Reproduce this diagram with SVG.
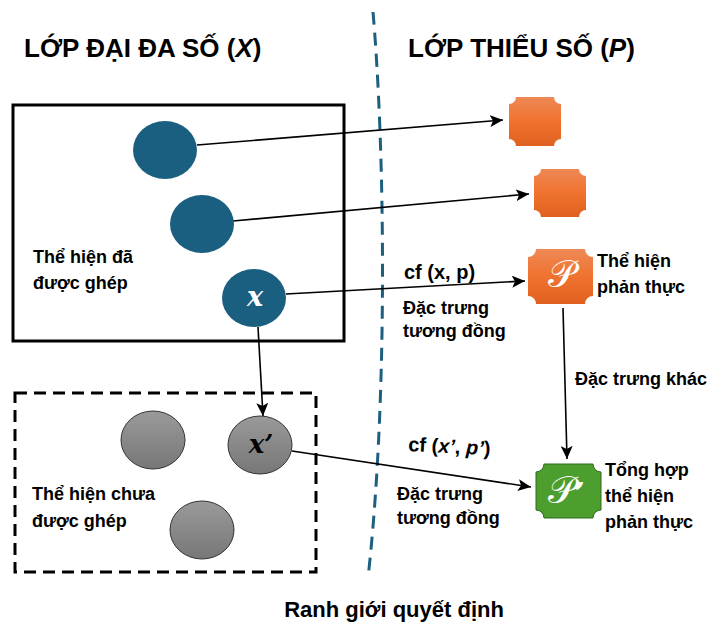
<svg xmlns="http://www.w3.org/2000/svg" width="726" height="637" viewBox="0 0 726 637">
<style>
.t{font-family:"Liberation Sans",Arial,sans-serif;font-weight:bold;fill:#000}
.lbl{font-size:18px}
.ttl{font-size:26px}
.math{font-family:"DejaVu Serif","Liberation Serif",serif;font-style:italic;font-weight:bold}
.conn{stroke:#000;stroke-width:1.6;fill:none;marker-end:url(#ah)}
.blue{fill:#1A5F80}
.gray{fill:url(#gg);stroke:#333;stroke-width:1}
.orange{fill:url(#og)}
</style>
<defs>
<marker id="ah" markerUnits="userSpaceOnUse" markerWidth="14" markerHeight="12" refX="13" refY="6" orient="auto">
<path d="M0,0 L13,6 L0,12 L3,6 z" fill="#000"/>
</marker>
<linearGradient id="og" x1="0" y1="0" x2="0" y2="1">
<stop offset="0" stop-color="#EE8956"/>
<stop offset="0.5" stop-color="#F0722F"/>
<stop offset="1" stop-color="#E0611F"/>
</linearGradient>
<linearGradient id="gg" x1="0" y1="0" x2="0" y2="1">
<stop offset="0" stop-color="#9A9A9A"/>
<stop offset="1" stop-color="#777777"/>
</linearGradient>
</defs>
<rect width="726" height="637" fill="#fff"/>

<g id="boundary">
<path d="M373,12 C385,150 388,400 368,578" fill="none" stroke="#1C5F7F" stroke-width="3" stroke-dasharray="13,8"/>
</g>

<g id="titles">
<text class="t ttl" x="24" y="57">LỚP ĐẠI ĐA SỐ (<tspan font-style="italic">X</tspan>)</text>
<text class="t ttl" x="408" y="57">LỚP THIỂU SỐ (<tspan font-style="italic">P</tspan>)</text>
<text class="t" x="394" y="617" font-size="22" text-anchor="middle">Ranh giới quyết định</text>
</g>

<g id="matched-box">
<rect x="13" y="105" width="331" height="236" fill="none" stroke="#000" stroke-width="3"/>
<text class="t lbl" x="33" y="263">Thể hiện đã</text>
<text class="t lbl" x="33" y="289">được ghép</text>
</g>

<g id="unmatched-box">
<rect x="15" y="393" width="301" height="179" fill="none" stroke="#000" stroke-width="3" stroke-dasharray="12,7"/>
<text class="t lbl" x="32" y="500">Thể hiện chưa</text>
<text class="t lbl" x="32" y="527">được ghép</text>
</g>

<g id="connectors">
<line class="conn" x1="197" y1="145" x2="503" y2="120"/>
<line class="conn" x1="233" y1="221" x2="529" y2="194"/>
<line class="conn" x1="286" y1="294" x2="525" y2="281"/>
<line class="conn" x1="258" y1="327" x2="263" y2="416"/>
<line class="conn" x1="292" y1="451" x2="531" y2="487"/>
<line class="conn" x1="563" y1="308" x2="567" y2="459"/>
</g>

<g id="edge-labels">
<text class="t" x="404" y="279" font-size="20">cf (x, p)</text>
<text class="t lbl" x="403" y="314">Đặc trưng</text>
<text class="t lbl" x="403" y="337">tương đồng</text>
<text class="t" x="408" y="451" font-size="20" transform="rotate(3 408 451)">cf (<tspan font-style="italic">x’</tspan>, <tspan font-style="italic">p’</tspan>)</text>
<text class="t lbl" x="397" y="500">Đặc trưng</text>
<text class="t lbl" x="397" y="524">tương đồng</text>
<text class="t lbl" x="575" y="385">Đặc trưng khác</text>
</g>

<g id="x1"><ellipse class="blue" cx="165" cy="150" rx="32" ry="29"/></g>
<g id="x2"><ellipse class="blue" cx="202" cy="224" rx="32" ry="29"/></g>
<g id="x">
<ellipse class="blue" cx="254" cy="298" rx="32" ry="29"/>
<text class="math" x="255" y="306" font-size="27" fill="#fff" text-anchor="middle">x</text>
</g>

<g id="g1"><ellipse class="gray" cx="153" cy="440" rx="32" ry="29"/></g>
<g id="xp">
<ellipse class="gray" cx="260" cy="445" rx="32" ry="29"/>
<text class="math" x="261" y="453" font-size="26" fill="#000" text-anchor="middle">x’</text>
</g>
<g id="g3"><ellipse class="gray" cx="202" cy="530" rx="32" ry="29"/></g>

<g id="p1">
<path class="orange" d="M516,97 H554 A7,7 0 0 0 561,104 V139 A7,7 0 0 0 554,146 H516 A7,7 0 0 0 509,139 V104 A7,7 0 0 0 516,97 Z"/>
</g>
<g id="p2">
<path class="orange" d="M541,169 H579 A7,7 0 0 0 586,176 V210 A7,7 0 0 0 579,217 H541 A7,7 0 0 0 534,210 V176 A7,7 0 0 0 541,169 Z"/>
</g>
<g id="p">
<path class="orange" d="M536,249 H585 A8,8 0 0 0 593,257 V296 A8,8 0 0 0 585,304 H536 A8,8 0 0 0 528,296 V257 A8,8 0 0 0 536,249 Z"/>
<text x="561" y="287" font-size="38" fill="#fff" text-anchor="middle" font-family="'DejaVu Serif','Liberation Serif',serif">𝒫</text>
<text class="t lbl" x="597" y="267">Thể hiện</text>
<text class="t lbl" x="597" y="293">phản thực</text>
</g>
<g id="pp">
<path d="M544,464 H593 A8,8 0 0 0 601,472 V510 A8,8 0 0 0 593,518 H544 A8,8 0 0 0 536,510 V472 A8,8 0 0 0 544,464 Z" fill="#4C9E2E" stroke="#2F6A1E" stroke-width="1"/>
<text x="566" y="503" font-size="38" fill="#fff" text-anchor="middle" font-family="'DejaVu Serif','Liberation Serif',serif">𝒫<tspan font-size="28" font-style="italic" font-weight="bold">’</tspan></text>
<text class="t lbl" x="605" y="476">Tổng hợp</text>
<text class="t lbl" x="605" y="502">thể hiện</text>
<text class="t lbl" x="605" y="528">phản thực</text>
</g>
</svg>
